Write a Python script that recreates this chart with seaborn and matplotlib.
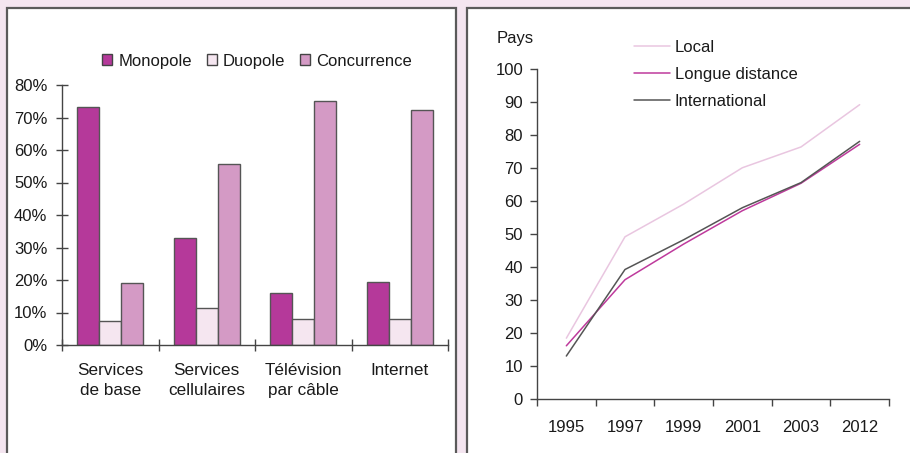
import matplotlib
matplotlib.use("Agg")
import matplotlib.pyplot as plt
import seaborn as sns
import pandas as pd
import numpy as np
from matplotlib.patches import Rectangle, Patch
from matplotlib.lines import Line2D
from matplotlib.ticker import FixedLocator, PercentFormatter

# ---- data: left bar chart ----
categories = ["Services\nde base", "Services\ncellulaires", "Télévision\npar câble", "Internet"]
market_types = ["Monopole", "Duopole", "Concurrence"]
monopole = [73.2, 33.0, 16.1, 19.5]
duopole = [7.5, 11.3, 8.0, 8.0]
concurrence = [19.0, 55.6, 75.2, 72.2]
bar_colors = ["#B5399A", "#F5E6F0", "#D49AC5"]

# ---- data: right line chart ----
years = ["1995", "1997", "1999", "2001", "2003", "2012"]
local = [18.5, 49.2, 59.1, 70.1, 76.4, 89.2]
longue_distance = [16.2, 36.2, 47.0, 57.1, 65.4, 77.2]
international = [13.1, 39.3, 48.3, 58.0, 65.6, 78.1]
series_names = ["Local", "Longue distance", "International"]
line_colors = ["#E9C6E0", "#BE3A9C", "#555555"]

sns.set_theme(style="white")
plt.rcParams["font.family"] = ["Liberation Sans", "DejaVu Sans"]
plt.rcParams["text.color"] = "#1a1a1a"
plt.rcParams["axes.labelcolor"] = "#1a1a1a"
plt.rcParams["xtick.color"] = "#444444"
plt.rcParams["ytick.color"] = "#444444"

W, H = 910, 453
fig = plt.figure(figsize=(W / 100, H / 100), dpi=100)
fig.patch.set_facecolor("#F4E5F0")

def px_rect(x0, y0, x1, y1):
    return Rectangle((x0 / W, 1 - y1 / H), (x1 - x0) / W, (y1 - y0) / H,
                     transform=fig.transFigure, facecolor="white",
                     edgecolor="#5a5a5a", linewidth=1.6, zorder=-10)

fig.patches.append(px_rect(6.5, 8, 456, 470))
fig.patches.append(px_rect(467, 8, 930, 470))

def ax_px(x0, ytop, x1, ybot):
    ax = fig.add_axes([x0 / W, 1 - ybot / H, (x1 - x0) / W, (ybot - ytop) / H])
    ax.set_zorder(1)
    return ax

# ---------------- left: bar chart ----------------
ax1 = ax_px(62, 85, 448, 345)
ax1.patch.set_alpha(0)
df_bar = pd.DataFrame({
    "cat": np.repeat(categories, 3),
    "type": market_types * len(categories),
    "val": [v for trio in zip(monopole, duopole, concurrence) for v in trio],
})
sns.barplot(data=df_bar, x="cat", y="val", hue="type", hue_order=market_types,
            order=categories, palette=bar_colors, width=0.684, gap=0,
            edgecolor="#555555", linewidth=1.0, saturation=1, ax=ax1, legend=False)
ax1.set_xlim(-0.5, len(categories) - 0.5)
ax1.set_ylim(0, 80)
ax1.set_yticks(np.arange(0, 81, 10))
ax1.yaxis.set_major_formatter(PercentFormatter(decimals=0))
ax1.xaxis.set_minor_locator(FixedLocator(np.arange(-0.5, len(categories), 1.0)))
ax1.tick_params(axis="x", which="major", length=0, pad=13, labelsize=12.3, labelcolor="#1a1a1a")
ax1.tick_params(axis="x", which="minor", direction="inout", length=8, width=1, color="#444444", bottom=True)
ax1.tick_params(axis="y", direction="inout", length=8, width=1, pad=6.5, labelsize=12,
                labelcolor="#1a1a1a", left=True)
for lab in ax1.get_xticklabels():
    lab.set_linespacing(1.45)
for s in ["top", "right"]:
    ax1.spines[s].set_visible(False)
for s in ["left", "bottom"]:
    ax1.spines[s].set_color("#444444")
    ax1.spines[s].set_linewidth(1.0)
ax1.set_xlabel("")
ax1.set_ylabel("")
handles = [Patch(facecolor=c, edgecolor="#444444", linewidth=1.0) for c in bar_colors]
ax1.legend(handles, market_types, loc="center", bbox_to_anchor=(0.505, 1.092),
           ncol=3, frameon=False, fontsize=12, handlelength=0.6, handleheight=0.6,
           handletextpad=0.35, columnspacing=0.9, borderpad=0, borderaxespad=0)

# ---------------- right: line chart ----------------
ax2 = ax_px(537, 69, 889, 399.3)
ax2.patch.set_alpha(0)
df_line = pd.DataFrame({
    "year": years * 3,
    "serie": np.repeat(series_names, len(years)),
    "val": local + longue_distance + international,
})
df_line["pos"] = df_line["year"].map({y: i for i, y in enumerate(years)})
sns.lineplot(data=df_line, x="pos", y="val", hue="serie", hue_order=series_names,
             palette=line_colors, linewidth=1.1, ax=ax2, legend=False, sort=False)
ax2.set_xlim(-0.5, len(years) - 0.5)
ax2.set_ylim(0, 100)
ax2.set_yticks(np.arange(0, 101, 10))
ax2.set_xticks(range(len(years)))
ax2.set_xticklabels(years)
ax2.xaxis.set_minor_locator(FixedLocator(np.arange(-0.5, len(years), 1.0)))
ax2.tick_params(axis="x", which="major", length=0, pad=15, labelsize=12, labelcolor="#1a1a1a")
ax2.tick_params(axis="x", which="minor", direction="out", length=5, width=1, color="#444444", bottom=True)
ax2.tick_params(axis="y", direction="out", length=5, width=1, pad=5, labelsize=12,
                labelcolor="#1a1a1a", left=True)
for s in ["top", "right"]:
    ax2.spines[s].set_visible(False)
for s in ["left", "bottom"]:
    ax2.spines[s].set_color("#444444")
    ax2.spines[s].set_linewidth(1.0)
ax2.set_xlabel("")
ax2.set_ylabel("")
fig.text(515 / W, 1 - 39 / H, "Pays", ha="center", va="center", fontsize=12)
lh = [Line2D([0], [0], color=c, linewidth=1.1) for c in line_colors]
fig.legend(lh, series_names, loc="upper left", bbox_to_anchor=(634 / W, 1 - 40 / H),
           frameon=False, fontsize=12, handlelength=2.15, handletextpad=0.3,
           labelspacing=0.72, borderpad=0, borderaxespad=0)

fig.savefig("out.png", dpi=100, facecolor=fig.get_facecolor())
